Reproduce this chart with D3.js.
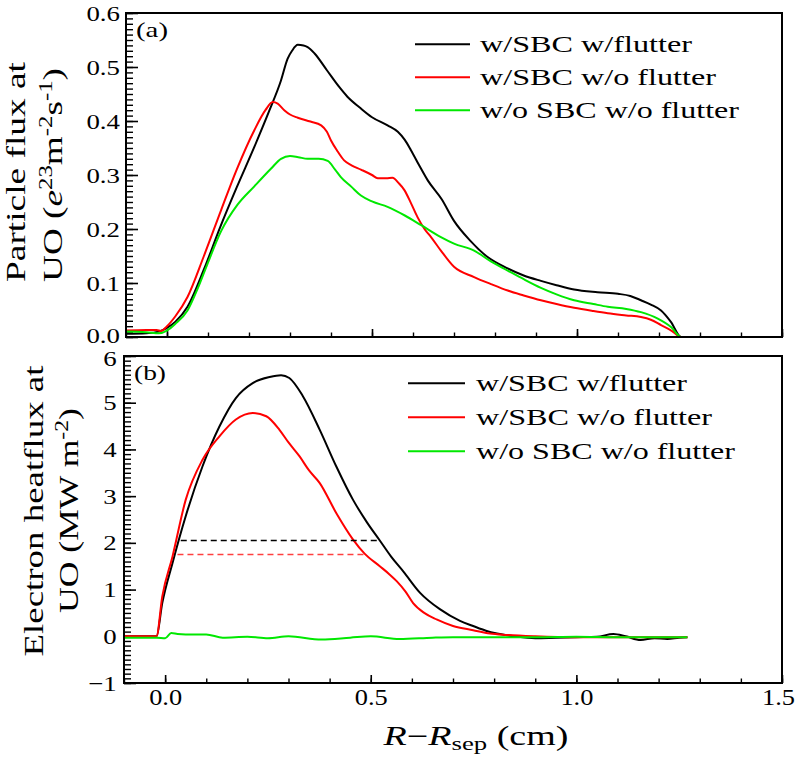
<!DOCTYPE html>
<html><head><meta charset="utf-8">
<script src="https://cdn.jsdelivr.net/npm/d3@7"></script>
<style>
html,body{margin:0;padding:0;background:#fff;}
text{font-family:"Liberation Serif","DejaVu Serif",serif;fill:#000;}
</style></head>
<body><svg id="chart" width="796" height="759"></svg>
<script>
// ---------- DATA ----------
const seriesNames = ["w/SBC w/flutter", "w/SBC w/o flutter", "w/o SBC w/o flutter"];
const seriesColors = ["#000000", "#ff0000", "#00e800"];

// Panel (a): particle flux
const fluxBlackX = [-0.1,-0.05,-0.02,0.0,0.02,0.05,0.09,0.13,0.17,0.213,0.25,0.278,0.294,0.305,0.319,0.333,0.343,0.36,0.39,0.42,0.44,0.47,0.5,0.538,0.563,0.58,0.595,0.615,0.636,0.67,0.7,0.74,0.782,0.831,0.87,0.912,0.95,0.993,1.05,1.1,1.13,1.156,1.18,1.205,1.229,1.254,1.27];
const fluxBlackY = [0.006,0.007,0.01,0.017,0.028,0.056,0.125,0.204,0.277,0.352,0.42,0.475,0.515,0.53,0.541,0.54,0.537,0.525,0.494,0.463,0.445,0.425,0.407,0.392,0.38,0.365,0.346,0.318,0.29,0.255,0.215,0.178,0.148,0.127,0.114,0.104,0.096,0.088,0.083,0.08,0.076,0.068,0.06,0.049,0.028,0.0,0.0];
const fluxRedX = [-0.1,-0.05,-0.025,-0.015,0.0,0.02,0.05,0.09,0.132,0.17,0.213,0.24,0.258,0.27,0.286,0.3,0.319,0.35,0.376,0.39,0.4,0.415,0.432,0.45,0.473,0.5,0.514,0.535,0.55,0.565,0.579,0.595,0.611,0.628,0.644,0.668,0.7,0.749,0.79,0.831,0.87,0.912,0.95,0.993,1.04,1.075,1.12,1.156,1.18,1.205,1.23,1.254,1.27];
const fluxRedY = [0.012,0.013,0.013,0.011,0.02,0.038,0.074,0.15,0.235,0.31,0.383,0.42,0.435,0.432,0.42,0.412,0.406,0.399,0.392,0.38,0.364,0.345,0.327,0.318,0.31,0.3,0.294,0.294,0.295,0.285,0.272,0.248,0.222,0.2,0.185,0.16,0.13,0.111,0.098,0.086,0.077,0.068,0.061,0.054,0.048,0.044,0.04,0.037,0.032,0.022,0.012,0.0,0.0];
const fluxGreenX = [-0.1,-0.05,-0.02,0.0,0.02,0.05,0.075,0.099,0.132,0.172,0.213,0.254,0.278,0.3,0.32,0.343,0.37,0.392,0.41,0.424,0.45,0.473,0.5,0.538,0.58,0.62,0.668,0.7,0.749,0.79,0.831,0.87,0.912,0.95,0.993,1.04,1.075,1.12,1.156,1.197,1.23,1.254,1.27];
const fluxGreenY = [0.01,0.009,0.007,0.012,0.024,0.049,0.09,0.136,0.196,0.245,0.279,0.312,0.33,0.335,0.333,0.33,0.33,0.326,0.31,0.296,0.278,0.262,0.251,0.241,0.225,0.207,0.185,0.173,0.16,0.14,0.123,0.107,0.091,0.079,0.068,0.061,0.056,0.052,0.046,0.034,0.018,0.0,0.0];

// Panel (b): electron heat flux
const heatBlackX = [-0.1,-0.021,-0.007,0.018,0.05,0.091,0.132,0.172,0.213,0.254,0.282,0.302,0.335,0.376,0.416,0.457,0.49,0.522,0.55,0.579,0.62,0.668,0.717,0.749,0.78,0.807,0.85,0.9,0.95,1.0,1.05,1.09,1.12,1.156,1.19,1.221,1.25,1.27];
const heatBlackY = [0.0,0.0,0.71,1.57,2.57,3.64,4.49,5.1,5.42,5.55,5.59,5.53,5.14,4.42,3.64,2.92,2.45,2.05,1.7,1.39,0.93,0.58,0.33,0.22,0.12,0.06,0.0,-0.04,-0.03,-0.02,-0.01,0.05,0.0,-0.08,-0.04,-0.06,-0.03,-0.02];
const heatRedX = [-0.1,-0.021,-0.007,0.018,0.05,0.091,0.132,0.172,0.213,0.246,0.278,0.3,0.327,0.35,0.376,0.416,0.457,0.485,0.522,0.545,0.563,0.585,0.603,0.63,0.66,0.7,0.749,0.79,0.83,0.9,1.0,1.1,1.2,1.27];
const heatRedY = [0.0,0.0,0.85,1.71,2.92,3.78,4.28,4.64,4.78,4.71,4.42,4.15,3.85,3.55,3.28,2.64,2.07,1.77,1.5,1.33,1.18,0.95,0.71,0.5,0.36,0.22,0.13,0.06,0.03,0.0,-0.02,-0.02,-0.02,-0.02];
const heatGreenX = [-0.1,-0.05,-0.02,0.0,0.015,0.03,0.05,0.1,0.14,0.2,0.25,0.3,0.38,0.45,0.5,0.57,0.65,0.7,0.8,0.9,1.0,1.1,1.2,1.27];
const heatGreenY = [-0.03,-0.03,-0.03,-0.04,0.07,0.05,0.04,0.04,-0.03,-0.01,-0.04,0.0,-0.07,-0.03,0.0,-0.06,-0.03,-0.02,-0.02,-0.02,-0.01,-0.02,-0.02,-0.02];

// Dashed width markers in (b)
const dashLevels = [2.05, 1.75];
const dashStart = [0.038, 0.03];
const dashEnd = [0.522, 0.485];
const dashColors = ["#000000", "#ff4040"];

// Axes
const xDomain = [-0.1, 1.5];
const xMajorTicks = [0.0, 0.5, 1.0, 1.5];
const fluxDomain = [0, 0.6];
const fluxTicks = [0.0, 0.1, 0.2, 0.3, 0.4, 0.5, 0.6];
const heatDomain = [-1, 6];
const heatTicks = [-1, 0, 1, 2, 3, 4, 5, 6];

// ---------- DRAW ----------
const svg = d3.select("#chart");
const FONT = 22;

function stretchText(sel, target) {
  const n = sel.node();
  const len = n.getComputedTextLength();
  return target / len;
}

function panel(opts) {
  const {left, right, top, bottom, yDomain, yTicks, yMinorStep, yFmt, series, showX, label, legendX, legendY, legendTextX, legendWidths, yPad, edgeNudge} = opts;
  const x = d3.scaleLinear().domain(xDomain).range([left, right]);
  const y = d3.scaleLinear().domain(yDomain).range([bottom, top]);
  const g = svg.append("g");
  const clipId = "clip" + label;
  svg.append("clipPath").attr("id", clipId).append("rect")
    .attr("x", left).attr("y", top).attr("width", right - left).attr("height", bottom - top);

  // minor y ticks
  const minorY = d3.range(yDomain[0], yDomain[1] + 1e-9, yMinorStep);
  g.append("g").attr("transform", `translate(${left},0)`)
    .call(d3.axisLeft(y).tickValues(minorY).tickSize(-7).tickFormat(""))
    .call(a => a.select(".domain").remove())
    .call(a => a.selectAll("line").attr("stroke-width", 1.4));
  // major y ticks
  const ya = g.append("g").attr("transform", `translate(${left},0)`)
    .call(d3.axisLeft(y).tickValues(yTicks).tickSize(-12).tickPadding(yPad).tickFormat(d3.format(yFmt)));
  ya.select(".domain").remove();
  ya.selectAll("line").attr("stroke-width", 1.6);
  ya.selectAll("text").style("font-size", FONT + "px").style("font-family", "Liberation Serif")
    .attr("transform", d => `translate(0,${edgeNudge && edgeNudge.v === d ? edgeNudge.dy : 0}) scale(1.22,1)`);

  // x ticks
  const minorX = d3.range(-0.1, 1.5001, 0.1).map(v => Math.round(v * 10) / 10);
  g.append("g").attr("transform", `translate(0,${bottom})`)
    .call(d3.axisBottom(x).tickValues(minorX).tickSize(-4.5).tickFormat(""))
    .call(a => a.select(".domain").remove())
    .call(a => a.selectAll("line").attr("stroke-width", 1.4));
  const xa = g.append("g").attr("transform", `translate(0,${bottom})`)
    .call(d3.axisBottom(x).tickValues(xMajorTicks).tickSize(-8).tickPadding(5)
      .tickFormat(showX ? d3.format(".1f") : ""));
  xa.select(".domain").remove();
  xa.selectAll("line").attr("stroke-width", 1.6);
  xa.selectAll("text").style("font-size", "24px").style("font-family", "Liberation Serif")
    .attr("transform", d => (d === 1.5 ? "translate(-4,0) " : "") + "scale(1.1,1)");

  // curves
  const line = d3.line().x(d => x(d[0])).y(d => y(d[1])).curve(d3.curveMonotoneX);
  const cg = g.append("g").attr("clip-path", `url(#${clipId})`);
  series.forEach((s, i) => {
    const pts = s.xs.map((v, j) => [v, s.ys[j]]);
    cg.append("path").attr("d", line(pts)).attr("fill", "none")
      .attr("stroke", seriesColors[i]).attr("stroke-width", 2).attr("stroke-linejoin", "round");
  });

  if (opts.dashed) {
    dashLevels.forEach((lv, i) => {
      cg.append("line").attr("x1", x(dashStart[i])).attr("x2", x(dashEnd[i]))
        .attr("y1", y(lv)).attr("y2", y(lv))
        .attr("stroke", dashColors[i]).attr("stroke-width", 1.4).attr("stroke-dasharray", "6,4");
    });
  }

  // frame
  g.append("rect").attr("x", left).attr("y", top).attr("width", right - left).attr("height", bottom - top)
    .attr("fill", "none").attr("stroke", "#000").attr("stroke-width", 2);

  // panel label
  const pl = g.append("text").attr("x", left + 10).attr("y", top + 24)
    .style("font-size", "22px").text("(" + label + ")");
  pl.attr("textLength", 32).attr("lengthAdjust", "spacingAndGlyphs");

  // legend
  seriesNames.forEach((nm, i) => {
    const ly = legendY[i];
    g.append("line").attr("x1", legendX[0]).attr("x2", legendX[1]).attr("y1", ly).attr("y2", ly)
      .attr("stroke", seriesColors[i]).attr("stroke-width", 2);
    g.append("text").attr("x", legendTextX).attr("y", ly + 8)
      .style("font-size", "24px").text(nm)
      .attr("textLength", legendWidths[i]).attr("lengthAdjust", "spacingAndGlyphs");
  });
  return {x, y};
}

panel({left: 126, right: 782, top: 13, bottom: 337, yDomain: fluxDomain, yTicks: fluxTicks, yMinorStep: 0.01,
  yFmt: ".1f", yPad: 5, showX: false, label: "a", edgeNudge: {v: 0, dy: -2},
  series: [{xs: fluxBlackX, ys: fluxBlackY}, {xs: fluxRedX, ys: fluxRedY}, {xs: fluxGreenX, ys: fluxGreenY}],
  legendX: [415, 470], legendY: [44.3, 77.3, 110.3], legendTextX: 480, legendWidths: [212, 236, 259]});

panel({left: 124, right: 782, top: 356, bottom: 683, yDomain: heatDomain, yTicks: heatTicks, yMinorStep: 0.1,
  yFmt: "d", yPad: 6, showX: true, label: "b", dashed: true, edgeNudge: {v: 6, dy: 2},
  series: [{xs: heatBlackX, ys: heatBlackY}, {xs: heatRedX, ys: heatRedY}, {xs: heatGreenX, ys: heatGreenY}],
  legendX: [408, 465], legendY: [383.3, 417.3, 451.3], legendTextX: 476, legendWidths: [211, 236, 259]});

// ---------- TITLES ----------
function rotTitle(bx, cy, target, build) {
  const t = svg.append("text").attr("text-anchor", "middle").style("font-size", "27px");
  build(t);
  const s = stretchText(t, target);
  t.attr("transform", `translate(${bx},${cy}) rotate(-90) scale(${s},1)`);
}
rotTitle(25, 172, 220, t => t.text("Particle flux at"));
rotTitle(62, 175, 214, t => {
  t.append("tspan").text("UO (");
  t.append("tspan").style("font-style", "italic").text("e");
  t.append("tspan").attr("dy", -10).style("font-size", "18px").text("23");
  t.append("tspan").attr("dy", 10).text("m");
  t.append("tspan").attr("dy", -10).style("font-size", "18px").text("-2");
  t.append("tspan").attr("dy", 10).text("s");
  t.append("tspan").attr("dy", -10).style("font-size", "18px").text("-1");
  t.append("tspan").attr("dy", 10).text(")");
});
rotTitle(43, 511, 291, t => t.text("Electron heatflux at"));
rotTitle(78, 510.5, 205, t => {
  t.append("tspan").text("UO (MW m");
  t.append("tspan").attr("dy", -10).style("font-size", "18px").text("-2");
  t.append("tspan").attr("dy", 10).text(")");
});

// x title
(function(){
  const t = svg.append("text").attr("text-anchor", "middle").style("font-size", "27px");
  t.append("tspan").style("font-style", "italic").text("R");
  t.append("tspan").text("\u2212");
  t.append("tspan").style("font-style", "italic").text("R");
  t.append("tspan").attr("dy", 5).style("font-size", "19px").text("sep");
  t.append("tspan").attr("dy", -5).text(" (cm)");
  const s = stretchText(t, 185);
  t.attr("transform", `translate(476,745) scale(${s},1)`);
})();
</script></body></html>
